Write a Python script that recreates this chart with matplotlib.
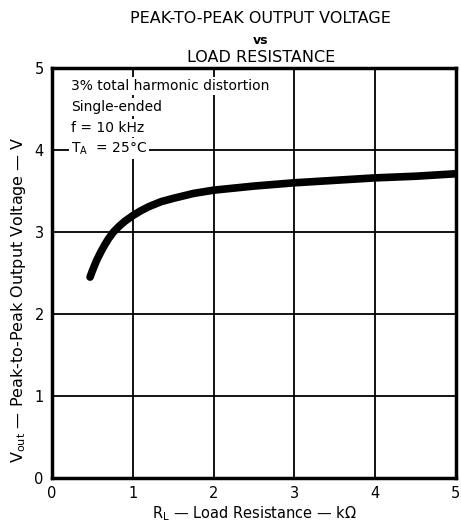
import matplotlib.pyplot as plt

# load resistance (kOhm) and peak-to-peak output voltage (V)
r_load = [0.47, 0.5, 0.55, 0.6, 0.65, 0.7, 0.76, 0.83, 0.9, 1.0, 1.1, 1.2, 1.35, 1.5,
          1.75, 2.0, 2.5, 3.0, 3.5, 4.0, 4.5, 5.0]
v_out = [2.45, 2.53, 2.65, 2.75, 2.84, 2.92, 3.0, 3.07, 3.13, 3.2, 3.26, 3.31, 3.37, 3.41,
         3.47, 3.51, 3.56, 3.60, 3.63, 3.66, 3.68, 3.71]

x_ticks = [0, 1, 2, 3, 4, 5]
y_ticks = [0, 1, 2, 3, 4, 5]

notes = ["3% total harmonic distortion", "Single-ended", "f = 10 kHz", "T$_\\mathregular{A}$  = 25°C"]

plt.rcParams['font.family'] = ['DejaVu Sans']
fig = plt.figure(figsize=(4.61, 5.27), dpi=100)
ax = fig.add_axes([0.113, 0.093, 0.876, 0.778])

ax.plot(r_load, v_out, color='black', linewidth=5.5, solid_capstyle='round',
        solid_joinstyle='round', zorder=3)

ax.set_xlim(0, 5)
ax.set_ylim(0, 5)
ax.set_xticks(x_ticks)
ax.set_yticks(y_ticks)
ax.tick_params(length=0, labelsize=10.5, pad=6)
ax.grid(color='black', linewidth=1.3)
for s in ax.spines.values():
    s.set_linewidth(2.5)

ax.set_xlabel("R$_\\mathregular{L}$ — Load Resistance — kΩ", fontsize=10.5, labelpad=2)
ax.set_ylabel("V$_\\mathregular{out}$ — Peak-to-Peak Output Voltage — V", fontsize=11.5)
ax.yaxis.set_label_coords(-0.06, 0.435)

y0 = 4.78
for i, t in enumerate(notes):
    ax.text(0.23, y0 - i * 0.255, t, fontsize=10, ha='left', va='center',
            bbox=dict(facecolor='white', edgecolor='none', pad=1.5), zorder=4)

fig.text(0.566, 0.965, "PEAK-TO-PEAK OUTPUT VOLTAGE", ha='center', va='center', fontsize=11.5)
fig.text(0.566, 0.923, "vs", ha='center', va='center', fontsize=9, fontweight='bold')
fig.text(0.566, 0.891, "LOAD RESISTANCE", ha='center', va='center', fontsize=11.5)

fig.savefig('out.png', dpi=100)
